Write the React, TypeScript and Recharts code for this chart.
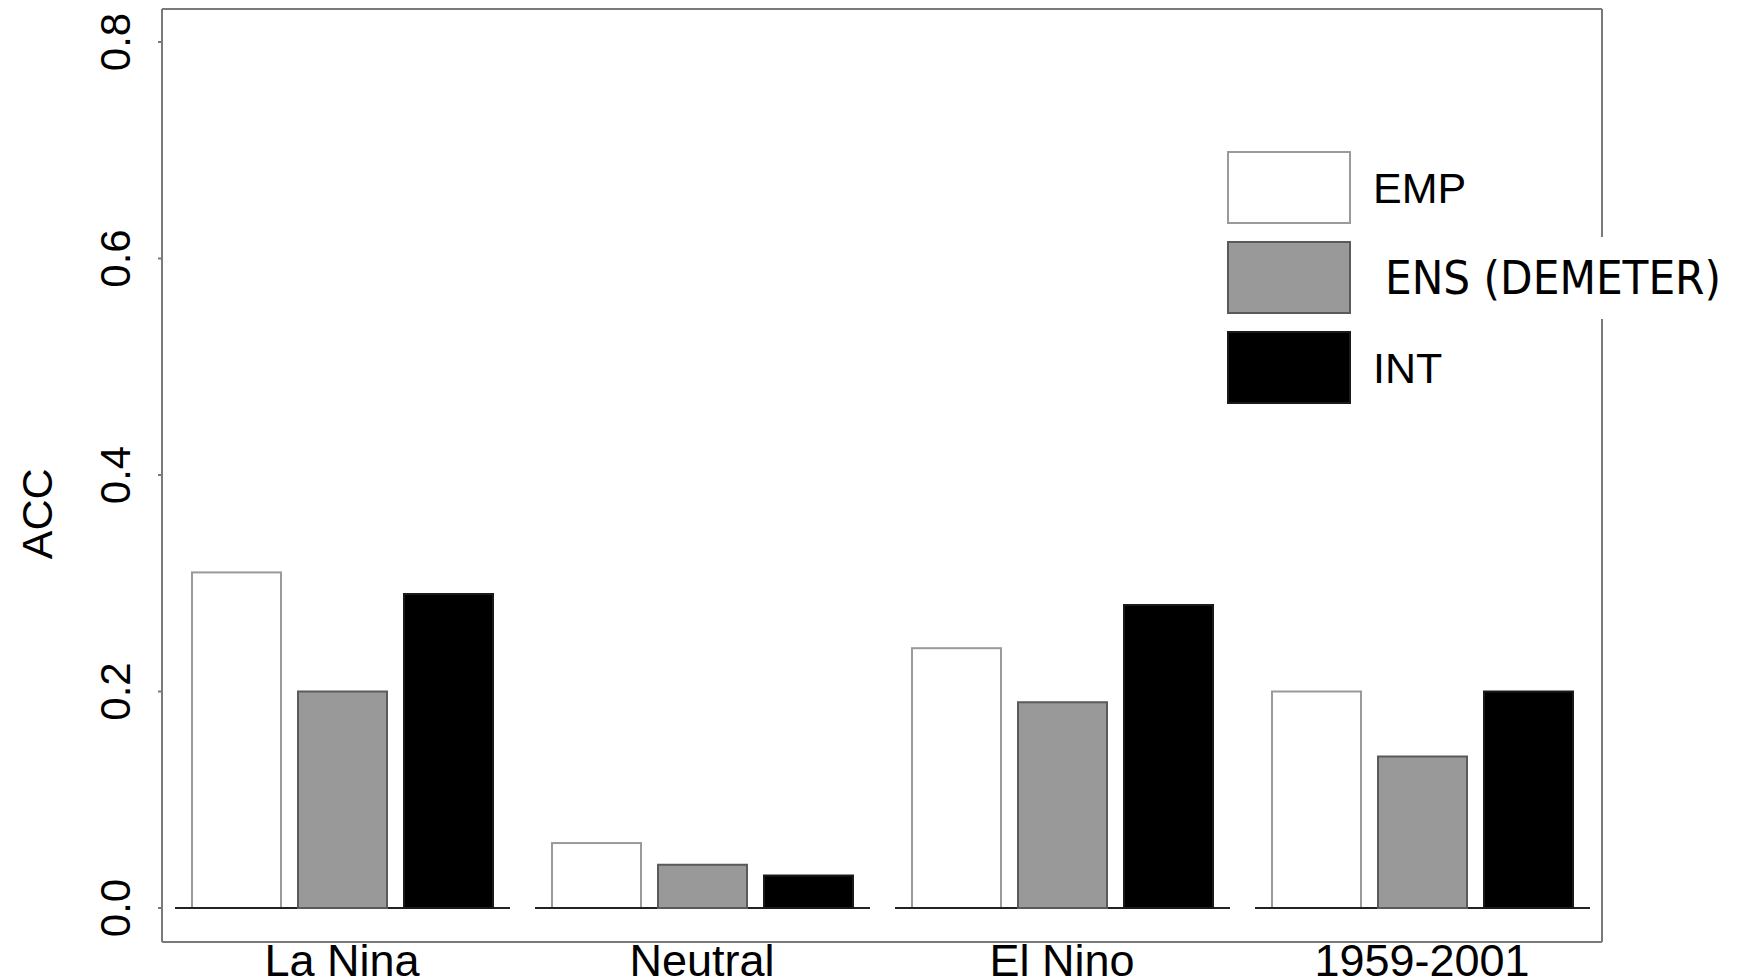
import React from "react";
import { BarChart, Bar, XAxis, YAxis, Legend, CartesianGrid } from "recharts";

// values
const categories = ["La Nina", "Neutral", "El Nino", "1959-2001"];
const empValues = [0.31, 0.06, 0.24, 0.2];
const ensValues = [0.2, 0.04, 0.19, 0.14];
const intValues = [0.29, 0.03, 0.28, 0.2];
const yTicks = [0, 0.2, 0.4, 0.6, 0.8];
const yTickLabels = ["0.0", "0.2", "0.4", "0.6", "0.8"];

const data = categories.map((category, i) => ({
  category,
  emp: empValues[i],
  ens: ensValues[i],
  int: intValues[i],
}));

const AXIS_FONT = '"Liberation Sans", Arial, Helvetica, sans-serif';
const PASTED_FONT = '"DejaVu Sans Condensed", "DejaVu Sans", Verdana, sans-serif';
const FRAME = "#7a7a7a";
const BAR_GAP = 17;

// the ENS label in the original was pasted in with another font
const series = [
  { key: "emp", fill: "#ffffff", stroke: "#9a9a9a", font: AXIS_FONT, size: 43, shift: 0 },
  { key: "ens", fill: "#999999", stroke: "#5a5a5a", font: PASTED_FONT, size: 47, shift: 12 },
  { key: "int", fill: "#000000", stroke: "#1a1a1a", font: AXIS_FONT, size: 43, shift: 0 },
];

// first bar of each group also draws the group's baseline
function EmpBar(props: any) {
  const { x, y, width, height, fill, stroke } = props;
  const groupEnd = x + width * 3 + BAR_GAP * 2;
  return (
    <g>
      <rect x={x} y={y} width={width} height={height} fill={fill} stroke={stroke} strokeWidth={2} />
      <line
        x1={x - BAR_GAP}
        x2={groupEnd + BAR_GAP}
        y1={y + height}
        y2={y + height}
        stroke="#222"
        strokeWidth={2}
      />
    </g>
  );
}

function YTick({ x, y, payload }: any) {
  const bx = x - 28;
  const idx = yTicks.indexOf(payload.value);
  return (
    <text
      x={bx}
      y={y}
      transform={`rotate(-90, ${bx}, ${y})`}
      textAnchor="middle"
      fontFamily={AXIS_FONT}
      fontSize={42}
      fill="#000"
    >
      {idx >= 0 ? yTickLabels[idx] : payload.value}
    </text>
  );
}

function XTick({ x, y, payload }: any) {
  return (
    <text x={x} y={y} dy={34} textAnchor="middle" fontFamily={AXIS_FONT} fontSize={45} fill="#000">
      {payload.value}
    </text>
  );
}

function AccLabel({ viewBox }: any) {
  const bx = viewBox.x + 52;
  const cy = viewBox.y + viewBox.height * 0.541;
  return (
    <text
      x={bx}
      y={cy}
      transform={`rotate(-90, ${bx}, ${cy})`}
      textAnchor="middle"
      fontFamily={AXIS_FONT}
      fontSize={43}
      fill="#000"
    >
      ACC
    </text>
  );
}

function LegendBlock({ payload }: any) {
  return (
    <div>
      {(payload || []).map((entry: any) => {
        const s = series.find((d) => d.key === entry.dataKey) || series[0];
        return (
          <div
            key={s.key}
            style={{ display: "flex", alignItems: "center", height: 73, marginBottom: 17 }}
          >
            <div
              style={{
                width: 124,
                height: 73,
                flex: "none",
                boxSizing: "border-box",
                background: s.fill,
                border: `2px solid ${s.stroke}`,
              }}
            />
            <span
              style={{
                marginLeft: 22 + s.shift,
                fontFamily: s.font,
                fontStretch: s.key === "ens" ? "condensed" : "normal",
                fontSize: s.size,
                lineHeight: "82px",
                color: "#000",
                background: "#fff",
                whiteSpace: "nowrap",
              }}
            >
              {entry.value}
            </span>
          </div>
        );
      })}
    </div>
  );
}

export default function App() {
  return (
    <div style={{ position: "absolute", left: 0, top: 0, background: "#fff" }}>
      <BarChart
        width={1742}
        height={980}
        data={data}
        margin={{ top: 9, right: 140, bottom: 0, left: 0 }}
        barGap={BAR_GAP}
        barCategoryGap={30}
      >
        {/* top and right sides of the box round the plot */}
        <CartesianGrid
          stroke={FRAME}
          strokeWidth={2}
          horizontalCoordinatesGenerator={({ offset }: any) => [offset.top]}
          verticalCoordinatesGenerator={({ offset }: any) => [offset.left + offset.width]}
        />
        <XAxis
          dataKey="category"
          height={38}
          tick={<XTick />}
          tickLine={false}
          tickSize={0}
          tickMargin={0}
          axisLine={{ stroke: FRAME, strokeWidth: 2 }}
        />
        <YAxis
          width={162}
          domain={[0, 0.8]}
          ticks={yTicks}
          padding={{ top: 33, bottom: 34 }}
          tick={<YTick />}
          tickSize={4}
          tickMargin={0}
          tickLine={{ stroke: FRAME, strokeWidth: 2 }}
          axisLine={{ stroke: FRAME, strokeWidth: 2 }}
          label={(props: any) => <AccLabel {...props} />}
        />
        <Legend
          layout="vertical"
          align="center"
          verticalAlign="middle"
          wrapperStyle={{ left: 1227, top: 151, width: 515 }}
          content={<LegendBlock />}
        />
        <Bar
          dataKey="emp"
          name="EMP"
          fill={series[0].fill}
          stroke={series[0].stroke}
          strokeWidth={2}
          shape={<EmpBar />}
          isAnimationActive={false}
        />
        <Bar
          dataKey="ens"
          name="ENS (DEMETER)"
          fill={series[1].fill}
          stroke={series[1].stroke}
          strokeWidth={2}
          isAnimationActive={false}
        />
        <Bar
          dataKey="int"
          name="INT"
          fill={series[2].fill}
          stroke={series[2].stroke}
          strokeWidth={2}
          isAnimationActive={false}
        />
      </BarChart>
    </div>
  );
}
